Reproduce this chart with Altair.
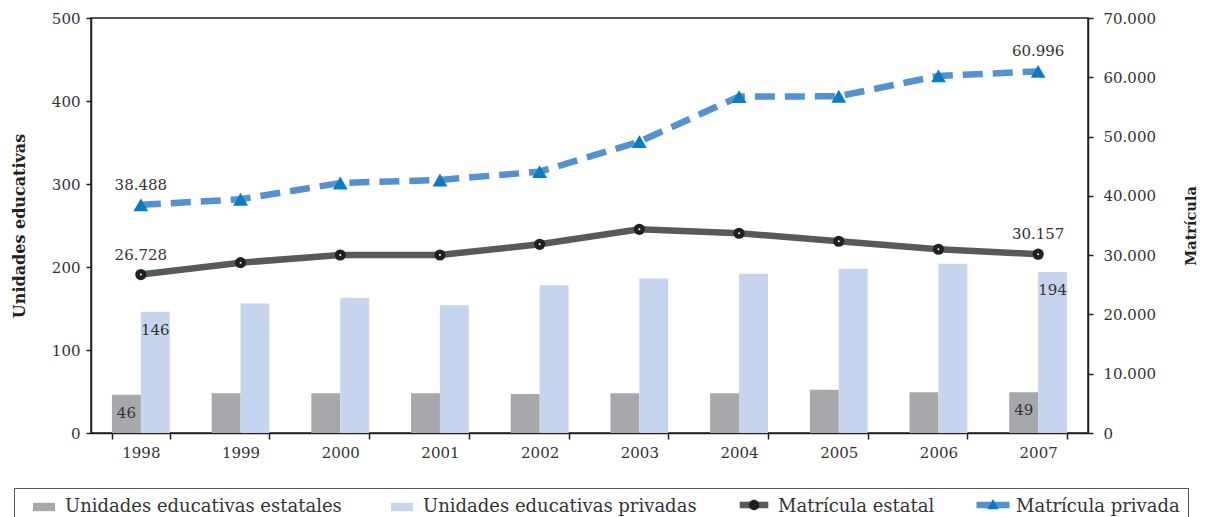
import altair as alt
import pandas as pd

years = ["1998", "1999", "2000", "2001", "2002", "2003", "2004", "2005", "2006", "2007"]
u_estatales = [46, 48, 48, 48, 47, 48, 48, 52, 49, 49]
u_privadas = [146, 156, 163, 154, 178, 186, 192, 198, 204, 194]
m_estatal = [26728, 28730, 30030, 30030, 31830, 34360, 33690, 32340, 30990, 30157]
m_privada = [38488, 39420, 42170, 42680, 44080, 49140, 56740, 56800, 60230, 60996]
label_years = ["1998", "2007"]

series = ["Unidades educativas estatales", "Unidades educativas privadas",
          "Matrícula estatal", "Matrícula privada"]
C_EST, C_PRIV, C_LE, C_LP = "#a7a8ab", "#c6d4ee", "#58595b", "#5591cf"
C_DOT, C_TRI = "#231f20", "#0b7bc3"

FONT = "DejaVu Serif"
TXT = "#333333"

bars_df = pd.DataFrame({
    "anio": years * 2,
    "serie": [series[0]] * len(years) + [series[1]] * len(years),
    "valor": u_estatales + u_privadas,
})
bars_df["label"] = bars_df["valor"].astype(str)

lines_df = pd.DataFrame({
    "anio": years * 2,
    "serie": [series[2]] * len(years) + [series[3]] * len(years),
    "valor": m_estatal + m_privada,
})
lines_df["label"] = lines_df["valor"].map(lambda v: f"{v:,}".replace(",", "."))

x_enc = alt.X("anio:N", sort=years,
              scale=alt.Scale(paddingInner=0.42, paddingOuter=0.21),
              axis=alt.Axis(title=None, labelAngle=0, tickBand="extent", tickSize=6,
                            labelPadding=6))
xoff = alt.XOffset("serie:N", sort=series[:2],
                   scale=alt.Scale(domain=series[:2], paddingInner=0, paddingOuter=0))
y_left = alt.Y("valor:Q", scale=alt.Scale(domain=[0, 500], nice=False),
               axis=alt.Axis(title="Unidades educativas", values=[0, 100, 200, 300, 400, 500],
                             tickSize=5, labelPadding=6, titlePadding=24, titleFontSize=16))
y_right = alt.Y("valor:Q", scale=alt.Scale(domain=[0, 70000], nice=False),
                axis=alt.Axis(orient="right", title="Matrícula",
                              values=[0, 10000, 20000, 30000, 40000, 50000, 60000, 70000],
                              labelExpr="replace(format(datum.value, ',d'), ',', '.')",
                              tickSize=5, labelPadding=10, titlePadding=43, titleAngle=270,
                              titleFontSize=14.5))

# legend symbol paths (unit square coordinates)
p_line_e = "M-1.3,-0.3H1.3V0.3H-1.3Z"
p_line_p = "M-1.5,-0.3H1.5V0.3H-1.5Z"
p_circle = "M-0.47,0A0.47,0.47 0 1,1 0.47,0A0.47,0.47 0 1,1 -0.47,0Z"
p_tri = "M0,-0.55L0.52,0.38L-0.52,0.38Z"
p_b = "M-1,-0.38H1V0.38H-1Z"

legend_main = alt.Legend(
    orient="none", legendX=-77, legendY=470, direction="horizontal", columns=4, title=None,
    labelFont=FONT, labelFontSize=18, labelColor=TXT, labelLimit=500, symbolSize=484,
    labelOffset=10, columnPadding=38, padding=8, symbolOffset=11, strokeColor="#58595b",
    symbolStrokeWidth=0, symbolOpacity=1, symbolType=p_b,
    labelExpr="datum.label == 'Matrícula privada' ? datum.label + '   ' : datum.label",
)
color_enc = alt.Color("serie:N",
                      scale=alt.Scale(domain=series, range=[C_EST, C_PRIV, "transparent", "transparent"]),
                      legend=legend_main)

bars = alt.Chart(bars_df).mark_bar().encode(x=x_enc, xOffset=xoff, y=y_left, color=color_enc)
bar_text = alt.Chart(bars_df).transform_filter(
    alt.FieldOneOfPredicate(field="anio", oneOf=label_years)
).mark_text(font=FONT, fontSize=15, color=TXT, dy=18).encode(
    x=x_enc, xOffset=xoff, y=y_left, text="label:N")
left = alt.layer(bars, bar_text)

line_e = alt.Chart(lines_df).transform_filter(alt.datum.serie == series[2]).mark_line(
    strokeWidth=6.5, color=C_LE).encode(x=x_enc, y=y_right)
line_p = alt.Chart(lines_df).transform_filter(alt.datum.serie == series[3]).mark_line(
    strokeWidth=6.5, strokeDash=[20, 10], color=C_LP).encode(x=x_enc, y=y_right)
pts_e = alt.Chart(lines_df).transform_filter(alt.datum.serie == series[2]).mark_point(
    shape="circle", filled=True, size=125, opacity=1).encode(
    x=x_enc, y=y_right, color=alt.value(C_DOT))
dots_e = alt.Chart(lines_df).transform_filter(alt.datum.serie == series[2]).mark_point(
    shape="circle", filled=True, size=4, opacity=1).encode(
    x=x_enc, y=y_right, color=alt.value("#ffffff"))
pts_p = alt.Chart(lines_df).transform_filter(alt.datum.serie == series[3]).mark_point(
    shape="triangle-up", filled=True, size=220, opacity=1).encode(
    x=x_enc, y=y_right, color=alt.value(C_TRI))
line_text = alt.Chart(lines_df).transform_filter(
    alt.FieldOneOfPredicate(field="anio", oneOf=label_years)
).mark_text(font=FONT, fontSize=15, color=TXT, dy=-20).encode(
    x=x_enc, y=y_right, text="label:N")
right = alt.layer(line_e, line_p, pts_e, dots_e, pts_p, line_text)


def symbol_legend(name, path, fill, lx, ly):
    lg = alt.Legend(orient="none", legendX=lx, legendY=ly, title=None, symbolSize=484,
                    symbolFillColor=fill, symbolStrokeWidth=0, symbolOpacity=1,
                    labelOpacity=0, labelFontSize=1, labelOffset=0, padding=0)
    return alt.Chart(lines_df).transform_filter(alt.datum.valor < 0).mark_point(
        filled=True, opacity=1).encode(
        shape=alt.Shape("serie:N", scale=alt.Scale(domain=[name], range=[path]), legend=lg),
        color=alt.value(fill))


LX_E, LX_P, LY = 652, 891, 476
leg_e = symbol_legend(series[2], p_line_e, C_LE, LX_E, LY)
leg_e2 = symbol_legend(series[2], p_circle, C_DOT, LX_E, LY)
leg_p = symbol_legend(series[3], p_line_p, C_LP, LX_P, LY)
leg_p2 = symbol_legend(series[3], p_tri, C_TRI, LX_P, LY)

chart = alt.layer(left, right, leg_e, leg_e2, leg_p, leg_p2).resolve_scale(
    y="independent", shape="independent").properties(
    width=997, height=415,
    autosize=alt.AutoSizeParams(type="none"),
    padding={"left": 83, "top": 10, "right": 114, "bottom": 100},
).configure_view(stroke="#231f20", strokeWidth=1.5).configure_axis(
    labelFont=FONT, labelFontSize=15, labelColor=TXT,
    titleFont=FONT, titleFontSize=15, titleColor="#231f20", titleFontWeight="bold",
    domainColor="#231f20", tickColor="#231f20", domainWidth=1.5, tickWidth=1.5, grid=False,
)

chart.save("out.html", embed_options={"renderer": "svg", "actions": False})
